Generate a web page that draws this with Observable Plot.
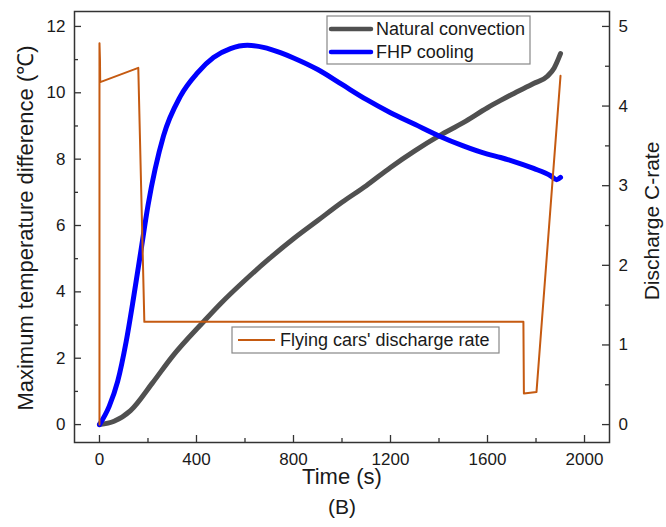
<!DOCTYPE html>
<html><head><meta charset="utf-8">
<script src="https://cdn.jsdelivr.net/npm/d3@7"></script>
<script src="https://cdn.jsdelivr.net/npm/@observablehq/plot@0.6"></script>
<style>
body{margin:0;background:#fff}
#chart{position:relative;width:666px;height:527px}
</style>
</head><body><div id="chart"></div>
<script>
// ---- data ----
const natTime = [0, 60, 128, 218, 300, 429, 500, 600, 700, 800, 900, 1000, 1100, 1200, 1300, 1400, 1500, 1600, 1654, 1700, 1790, 1847, 1875, 1901];
const natVal  = [0, 0.1, 0.42, 1.25, 2.05, 3.1, 3.65, 4.35, 5.0, 5.6, 6.15, 6.7, 7.2, 7.75, 8.25, 8.7, 9.1, 9.55, 9.77, 9.95, 10.28, 10.5, 10.75, 11.18];

const fhpTime = [0, 40, 75, 110, 140, 170, 200, 264, 334, 404, 470, 540, 610, 676, 746, 800, 900, 1000, 1100, 1200, 1300, 1400, 1500, 1600, 1654, 1700, 1790, 1860, 1885, 1901];
const fhpVal  = [0, 0.55, 1.3, 2.5, 3.8, 5.2, 6.6, 8.7, 9.9, 10.6, 11.06, 11.33, 11.43, 11.37, 11.21, 11.05, 10.7, 10.25, 9.8, 9.4, 9.05, 8.7, 8.4, 8.15, 8.05, 7.95, 7.72, 7.5, 7.38, 7.45];

const rateTime = [0, 0, 2, 3, 160, 185, 1748, 1750, 1802, 1901];
const rateVal  = [0, 4.79, 4.58, 4.3, 4.48, 1.29, 1.29, 0.39, 0.41, 4.38];

const xTicks = [0, 400, 800, 1200, 1600, 2000];
const xMinor = [200, 600, 1000, 1400, 1800];
const yTicks = [0, 2, 4, 6, 8, 10, 12];
const yMinor = [1, 3, 5, 7, 9, 11];
const rTicks = [0, 1, 2, 3, 4, 5];
const rMinor = [0.5, 1.5, 2.5, 3.5, 4.5];

const seriesNames = ["Natural convection", "FHP cooling", "Flying cars' discharge rate"];
const colors = ["#505050", "#0000ff", "#c55a11"];
const xLabel = "Time (s)";
const yLabel = "Maximum temperature difference (\u2103)";
const rLabel = "Discharge C-rate";
const caption = "(B)";

// ratio between left axis and right axis
const K = 2.4;

const nat = natTime.map((t, i) => ({t, v: natVal[i]}));
const fhp = fhpTime.map((t, i) => ({t, v: fhpVal[i]}));
const rate = rateTime.map((t, i) => ({t, v: rateVal[i] * K}));

const W = 666, H = 527, mL = 74, mR = 57, mT = 11, mB = 85;
const fw = W - mL - mR, fh = H - mT - mB;
const font = "'Liberation Sans', Arial, sans-serif";
const ink = "#1a1a1a";
const fmt = d3.format("d");

const plot = Plot.plot({
  width: W, height: H,
  marginLeft: mL, marginRight: mR, marginTop: mT, marginBottom: mB,
  style: {fontFamily: font, color: ink, background: "#fff"},
  x: {domain: [-103, 2103]},
  y: {domain: [-0.54, 12.45]},
  marks: [
    // ticks (inward)
    Plot.ruleX(xTicks, {x: d => d, insetTop: fh - 7, stroke: "#333", strokeWidth: 1.3}),
    Plot.ruleX(xMinor, {x: d => d, insetTop: fh - 4, stroke: "#333", strokeWidth: 1.3}),
    Plot.ruleY(yTicks, {y: d => d, insetRight: fw - 7, stroke: "#333", strokeWidth: 1.3}),
    Plot.ruleY(yMinor, {y: d => d, insetRight: fw - 4, stroke: "#333", strokeWidth: 1.3}),
    Plot.ruleY(rTicks, {y: d => d * K, insetLeft: fw - 7, stroke: "#333", strokeWidth: 1.3}),
    Plot.ruleY(rMinor, {y: d => d * K, insetLeft: fw - 4, stroke: "#333", strokeWidth: 1.3}),
    // axes labels
    Plot.axisX({ticks: xTicks, tickFormat: fmt, tickSize: 0, tickPadding: 10, fontSize: 17, label: null}),
    Plot.axisY({ticks: yTicks, tickFormat: fmt, tickSize: 0, tickPadding: 9, fontSize: 17, label: null}),
    Plot.axisY({anchor: "right", ticks: rTicks.map(d => d * K), tickFormat: d => fmt(Math.round(d / K)), tickSize: 0, tickPadding: 9, fontSize: 17, label: null}),
    // data
    Plot.line(nat, {x: "t", y: "v", stroke: colors[0], strokeWidth: 5, curve: "monotone-x", strokeLinecap: "round"}),
    Plot.line(fhp, {x: "t", y: "v", stroke: colors[1], strokeWidth: 5, curve: "monotone-x", strokeLinecap: "round"}),
    Plot.line(rate, {x: "t", y: "v", stroke: colors[2], strokeWidth: 2}),
    Plot.frame({stroke: "#333", strokeWidth: 1.5}),
    // titles
    Plot.text([yLabel], {frameAnchor: "left", textAnchor: "middle", dx: -49, dy: 1, rotate: -90, fontSize: 22, fill: ink}),
    Plot.text([rLabel], {frameAnchor: "right", textAnchor: "middle", dx: 43, dy: -6, rotate: -90, fontSize: 21, fill: ink}),
    Plot.text([xLabel], {frameAnchor: "bottom", dy: 41, fontSize: 22, fill: ink}),
    Plot.text([caption], {frameAnchor: "bottom", dy: 71, fontSize: 21, fill: ink})
  ]
});

document.getElementById("chart").appendChild(plot);

// legends
const svg = d3.select(plot);
function legend(box, items) {
  const g = svg.append("g");
  g.append("rect").attr("x", box[0]).attr("y", box[1]).attr("width", box[2]).attr("height", box[3])
    .attr("fill", "#fff").attr("stroke", "#888").attr("stroke-width", 1.2);
  items.forEach(it => {
    g.append("line").attr("x1", it.x1).attr("x2", it.x2).attr("y1", it.y).attr("y2", it.y)
      .attr("stroke", it.color).attr("stroke-width", it.sw).attr("stroke-linecap", it.sw > 3 ? "round" : "butt");
    g.append("text").attr("x", it.tx).attr("y", it.y).attr("dy", "0.35em").attr("text-anchor", "start")
      .attr("font-size", 18).attr("font-family", font).attr("fill", ink).text(it.name);
  });
}
legend([327, 16, 203, 48], [
  {name: seriesNames[0], color: colors[0], sw: 4.5, x1: 331, x2: 371, y: 29, tx: 376},
  {name: seriesNames[1], color: colors[1], sw: 4.5, x1: 331, x2: 371, y: 52, tx: 376}
]);
legend([232, 327, 267, 26], [
  {name: seriesNames[2], color: colors[2], sw: 2, x1: 238, x2: 275, y: 340, tx: 280}
]);
</script></body></html>
